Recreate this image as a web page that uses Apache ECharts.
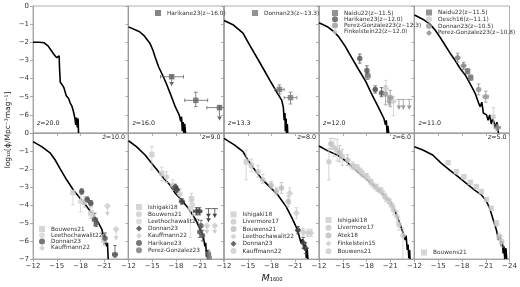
<!DOCTYPE html>
<html>
<head>
<meta charset="utf-8">
<script src="https://cdn.jsdelivr.net/npm/echarts@6/dist/echarts.min.js"></script>
<style>
  html, body {margin: 0; padding: 0; background: #fff}
  #chart {width: 520px; height: 287px}
</style>
</head>
<body>
<div id="chart"></div>
<script>
// model curves [M1600, log10 phi]
const z20Model = [[-12,-2.0],[-12.8,-2.0],[-13.4,-2.03],[-13.9,-2.2],[-14.3,-2.45],[-14.7,-2.7],[-15.0,-2.85],[-15.2,-2.9],[-15.3,-2.75],[-15.35,-3.4],[-15.45,-4.2],[-15.7,-4.35],[-15.9,-4.5],[-16.1,-4.6],[-16.2,-4.95],[-16.5,-5.1],[-16.7,-5.35],[-16.9,-5.5],[-17.1,-5.8],[-17.3,-6.2],[-17.4,-6.55],[-17.5,-6.15],[-17.6,-6.7],[-17.7,-6.2],[-17.75,-7]]
const z16Model = [[-12,-1.15],[-13.4,-1.42],[-14.0,-1.65],[-14.7,-2.05],[-15.1,-2.45],[-15.35,-2.8],[-15.8,-3.35],[-16.4,-3.9],[-16.8,-4.3],[-17.25,-4.8],[-17.6,-5.2],[-17.9,-5.55],[-18.4,-6.0],[-18.6,-6.35],[-18.7,-6.1],[-18.8,-6.9],[-18.9,-6.4],[-19.0,-7],[-19.1,-6.5],[-19.2,-7]]
const z13Model = [[-12,-0.8],[-13.2,-1.05],[-14.4,-1.5],[-15.3,-2.2],[-16.5,-3.1],[-17.8,-4.1],[-18.6,-4.7],[-19.3,-5.2],[-19.5,-5.6],[-19.6,-6.3],[-19.7,-5.9],[-19.75,-6.9],[-19.85,-6.2],[-19.9,-7],[-20.0,-6.5],[-20.05,-7]]
const z12Model = [[-12,-0.92],[-13.05,-1.14],[-13.9,-1.42],[-14.5,-1.7],[-15.35,-2.25],[-16.2,-2.9],[-17.0,-3.5],[-17.9,-4.15],[-18.7,-4.9],[-19.35,-5.45],[-19.8,-5.85],[-20.2,-6.2],[-20.4,-6.55],[-20.5,-6.3],[-20.6,-7],[-20.7,-6.6],[-20.8,-7]]
const z11Model = [[-12,-0.5],[-13.1,-0.74],[-13.95,-1.0],[-14.6,-1.32],[-15.2,-1.7],[-15.85,-2.15],[-16.5,-2.6],[-17.1,-2.98],[-17.75,-3.43],[-18.4,-3.8],[-19.0,-4.26],[-19.65,-4.8],[-20.1,-5.35],[-20.3,-5.55],[-20.5,-5.3],[-20.7,-5.9],[-21.1,-6.0],[-21.3,-6.3],[-21.5,-6.0],[-21.7,-6.5],[-21.9,-6.2],[-22.2,-6.7],[-22.4,-6.4],[-22.6,-7]]
const z10Model = [[-12,-0.48],[-13.1,-0.76],[-14.15,-1.1],[-14.8,-1.5],[-15.4,-1.96],[-16.25,-2.6],[-17.1,-3.17],[-17.95,-3.63],[-18.8,-4.09],[-19.6,-4.56],[-20.25,-4.98],[-20.7,-5.35],[-20.9,-5.76],[-21.0,-5.6],[-21.1,-5.95],[-21.3,-6.3],[-21.4,-6.1],[-21.5,-7]]
const z9Model = [[-12,-0.43],[-13.0,-0.76],[-14.1,-1.22],[-14.95,-1.69],[-15.8,-2.15],[-16.6,-2.6],[-17.25,-2.89],[-17.9,-3.35],[-18.7,-3.72],[-19.55,-4.18],[-20.4,-4.74],[-21.0,-5.3],[-21.45,-5.76],[-21.65,-6.3],[-21.75,-6.1],[-21.85,-6.87],[-21.95,-6.5],[-22.0,-7]]
const z8Model = [[-12,-0.3],[-13.35,-0.67],[-14.4,-1.04],[-15.0,-1.5],[-15.9,-2.06],[-16.7,-2.52],[-17.75,-2.98],[-18.8,-3.44],[-19.85,-4.09],[-20.5,-4.65],[-21.1,-5.2],[-21.45,-5.67],[-21.75,-6.13],[-21.9,-5.9],[-22.2,-6.5],[-22.3,-6.2],[-22.4,-6.96],[-22.5,-6.4],[-22.6,-7]]
const z6Model = [[-12,-0.72],[-13.05,-0.98],[-14.3,-1.22],[-15.35,-1.54],[-16.4,-1.96],[-17.65,-2.43],[-18.9,-2.89],[-19.95,-3.35],[-21.0,-3.81],[-21.65,-4.37],[-22.05,-4.83],[-22.5,-5.39],[-22.9,-5.94],[-23.0,-5.7],[-23.15,-6.5],[-23.25,-6.2],[-23.35,-6.96],[-23.45,-6.5],[-23.5,-7]]
const z5Model = [[-12,-0.76],[-13.05,-0.94],[-14.3,-1.22],[-15.4,-1.69],[-16.45,-2.06],[-17.5,-2.43],[-18.55,-2.8],[-19.6,-3.17],[-20.45,-3.44],[-21.0,-3.72],[-21.5,-4.18],[-21.95,-4.83],[-22.35,-5.39],[-22.6,-5.94],[-22.8,-5.7],[-23.0,-6.3],[-23.1,-6.0],[-23.2,-6.69],[-23.3,-6.3],[-23.4,-7],[-23.55,-6.4],[-23.65,-7]]

// observations [M, logphi, errDown, errUp, errXfaint, errXbright]
const z16Harikane = [[-17.45,-3.9,0.1,0.1,1.4,1.5],[-20.5,-5.2,0.35,0.45,1.4,1.5],[-23.5,-5.6,0.1,0.1,1.6,1.0]]
// upper limits [M, logphi, arrow length, errX]
const z16HarikaneLim = [[-17.45,-4.05,0.35,0],[-23.5,-5.7,0.6,0]]
const z13Donnan = [[-19.0,-4.6,0.25,0.25,0.6,0.6],[-20.4,-5.05,0.35,0.3,0.8,0.8]]
const z12Naidu = [[-18.15,-3.85,0.2,0.2,0.3,0.3]]
const z12Harikane = [[-17.15,-2.9,0.25,0.25],[-18.05,-3.55,0.2,0.25],[-19.1,-4.6,0.2,0.2,0.2,0.2],[-19.9,-4.8,0.2,0.3]]
const z12Perez = [[-20.4,-4.85,0.6,0.45],[-21.0,-5.05,0.5,0.4,0.3,0.3],[-20.9,-5.25,0.2,0.2]]
const z12PerezLim = [[-22.1,-5.15,0.55,0.3],[-22.65,-5.15,0.55,0.3],[-23.4,-5.15,0.55,0.35]]
const z12Finkelstein = [[-20.45,-4.55,0.45,0.45],[-21.4,-5.25,0.8,0.25]]
const z11Naidu = [[-18.7,-3.6,0.15,0.15,0.2,0.2],[-19.1,-3.95,0.15,0.15,0.2,0.2]]
const z11Oesch = [[-21.95,-6.1,0.45,0.5]]
const z11Donnan = [[-20.1,-4.6,0.3,0.3,0.2,0.2],[-21.0,-5.0,0.3,0.3,0.35,0.35]]
const z11Perez = [[-17.45,-2.85,0.25,0.25,0.2,0.2],[-18.2,-3.3,0.2,0.2,0.2,0.2],[-22.45,-6.7,0.15,0.15,0.4,0.4]]

const z10Bouwens = [[-17.05,-3.3,0.7,0.1],[-18.5,-3.85,0.3,0.3],[-19.3,-4.45,0.3,0.3],[-20.95,-5.95,0.3,0.3]]
const z10Leetho = [[-18.0,-3.8,0.6,0.3],[-19.5,-4.6,0.3,0.3]]
const z10Donnan = [[-18.15,-3.25,0.15,0.15,0.2,0.2],[-18.85,-3.7,0.15,0.15,0.2,0.2],[-19.3,-3.9,0.15,0.15,0.2,0.2],[-19.8,-4.8,0.35,0.35,0.3,0.3],[-20.0,-5.0,0.2,0.2],[-21.1,-5.85,0.3,0.3],[-22.35,-6.75,0.15,0.5,0.3,0.3]]
const z10Kauffmann = [[-21.4,-4.05],[-22.5,-5.35]]
const z10KauffmannLim = [[-21.4,-4.05,0.55,0],[-22.5,-5.35,0.6,0]]

const z9Ishigaki = [[-14.95,-1.2,0.85,0.45],[-16.2,-2.25,0.4,0.35],[-19.95,-3.65,0.3,0.3]]
const z9Bouwens = [[-16.8,-2.45,0.3,0.3],[-17.6,-2.9,0.3,0.3],[-18.5,-3.4,0.3,0.3]]
const z9Leetho = [[-19.8,-4.2,1.6,0.4],[-20.1,-4.0,0.6,0.3]]
const z9Donnan = [[-17.9,-3.0,0.15,0.15,0.25,0.25],[-18.1,-3.15,0.15,0.15,0.25,0.25],[-18.75,-3.8,0.15,0.15,0.25,0.25],[-20.6,-4.35,0.2,0.2,0.4,0.4],[-20.95,-4.35,0.2,0.2,0.3,0.3]]
const z9DonnanLim = [[-22.1,-4.2,0.5,0.4],[-22.9,-4.2,0.5,0.4],[-22.1,-4.65,0.3,0]]
const z9Kauffmann = [[-21.9,-5.15],[-22.9,-5.15]]
const z9KauffmannLim = [[-21.9,-5.15,0.45,0],[-22.9,-5.15,0.45,0]]
const z9Harikane = [[-21.0,-5.5,0.3,0.3],[-21.35,-5.7,0.3,0.3],[-21.15,-5.15,0.3,0.3]]
const z9Perez = [[-22.1,-6.7,0.2,0.2],[-22.2,-6.9,0.2,0.2]]

const z8Ishigaki = [[-14.8,-1.6,1.0,0.65],[-15.45,-1.8,0.35,0.35]]
const z8Livermore = [[-16.3,-2.15,0.3,0.35],[-16.9,-2.6,0.2,0.3]]
const z8Bouwens = [[-17.95,-2.9,0.2,0.2],[-18.6,-3.25,0.2,0.2],[-19.25,-3.05,0.3,0.3],[-20.1,-3.8,0.3,0.3]]
const z8Leetho = [[-20.3,-3.35,0.6,0.3],[-21.15,-4.45,0.3,0.3],[-22.6,-5.55,0.2,0.2,0.3,0.3],[-23.0,-5.55,0.2,0.2]]
const z8Donnan = [[-21.35,-5.4,0.2,0.2,0.2,0.2],[-22.0,-6.1,0.3,0.3],[-22.3,-6.4,0.3,0.3]]
const z8Kauffmann = [[-22.0,-5.5,0.2,0.2]]

const z6Ishigaki = [[-16.2,-1.8,0.2,0.2],[-16.85,-1.95,0.2,0.2],[-17.45,-2.25,0.2,0.2]]
const z6Livermore = [[-13.25,-1.6,1.0,0.75],[-13.9,-0.8,0.5,0.5],[-14.3,-0.95,0.6,0.6],[-14.95,-1.3,0.5,0.4]]
const z6Atek = [[-13.5,-0.6,0.3,0.3],[-14.6,-1.1,0.5,0.4],[-15.6,-1.5,0.3,0.3]]
const z6Finkelstein = [[-18.1,-2.45,0.2,0.2],[-18.7,-2.8,0.2,0.2],[-19.35,-3.05,0.2,0.2],[-19.95,-3.25,0.2,0.2],[-20.4,-3.6,0.2,0.2],[-21.0,-3.9,0.2,0.2],[-21.45,-4.3,0.25,0.25],[-21.85,-4.65,0.3,0.3]]
const z6Bouwens = [[-16.5,-1.9,0.15,0.15],[-17.2,-2.1,0.15,0.15],[-17.9,-2.4,0.15,0.15],[-18.5,-2.7,0.15,0.15],[-19.1,-3.0,0.15,0.15],[-19.7,-3.2,0.15,0.15],[-20.3,-3.5,0.15,0.15],[-20.8,-3.75,0.15,0.15],[-21.3,-4.1,0.2,0.2],[-22.1,-5.1,0.3,0.3],[-22.6,-5.7,1.3,0.4]]

const z5Bouwens = [[-16.25,-1.65,0.1,0.1],[-17.3,-2.15,0.1,0.1],[-18.25,-2.43,0.1,0.1],[-19.05,-2.74,0.1,0.1],[-19.8,-2.98,0.1,0.1],[-20.45,-3.26,0.1,0.1],[-21.1,-3.69,0.1,0.1],[-21.7,-4.18,0.1,0.1],[-22.35,-5.02,0.15,0.15],[-22.7,-5.76,0.2,0.2],[-23.0,-6.04,0.3,0.3]]

const xTicks = [-24, -21, -18, -15, -12]
const yTicks = [-7, -6, -5, -4, -3, -2, -1, 0]

// panel layout
const colLeft = [33, 128.5, 224, 319, 414.5]
const panelW = 95
const rowTop = [6, 133]
const rowH = [127, 126]

const panels = [
  {z: '20.0', model: z20Model, groups: []},
  {z: '16.0', model: z16Model, legend: [155, 10, 2], groups: [
    {name: 'Harikane23(z~16.0)', data: z16Harikane, lims: z16HarikaneLim, color: '#666', symbol: 'rect'}]},
  {z: '13.3', model: z13Model, legend: [252, 10, 2], groups: [
    {name: 'Donnan23(z~13.3)', data: z13Donnan, color: '#777', symbol: 'rect'}]},
  {z: '12.0', model: z12Model, legend: [332, 10, 0.3], groups: [
    {name: 'Naidu22(z~11.5)', data: z12Naidu, color: '#777', symbol: 'rect'},
    {name: 'Harikane23(z~12.0)', data: z12Harikane, color: '#555', symbol: 'circle'},
    {name: 'Perez-Gonzalez23(z~12.3)', data: z12Perez, lims: z12PerezLim, color: '#999', symbol: 'circle'},
    {name: 'Finkelstein22(z~12.0)', data: z12Finkelstein, color: '#ccc', symbol: 'diamond'}]},
  {z: '11.0', model: z11Model, legend: [426, 9.5, 0.8], groups: [
    {name: 'Naidu22(z~11.5)', data: z11Naidu, color: '#777', symbol: 'rect'},
    {name: 'Oesch16(z~11.1)', data: z11Oesch, color: '#ccc', symbol: 'circle'},
    {name: 'Donnan23(z~10.5)', data: z11Donnan, color: '#999', symbol: 'circle'},
    {name: 'Perez-Gonzalez23(z~10.8)', data: z11Perez, color: '#888', symbol: 'diamond'}]},
  {z: '10.0', model: z10Model, legend: [39, 226, 0.3], groups: [
    {name: 'Bouwens21', data: z10Bouwens, color: '#ccc', symbol: 'rect'},
    {name: 'Leethochawalit22', data: z10Leetho, color: '#d4d4d4', symbol: 'circle'},
    {name: 'Donnan23', data: z10Donnan, color: '#555', symbol: 'circle'},
    {name: 'Kauffmann22', data: z10Kauffmann, lims: z10KauffmannLim, color: '#ccc', symbol: 'diamond'}]},
  {z: '9.0', model: z9Model, legend: [136, 204, 1.2], groups: [
    {name: 'Ishigaki18', data: z9Ishigaki, color: '#ccc', symbol: 'rect'},
    {name: 'Bouwens21', data: z9Bouwens, color: '#ccc', symbol: 'circle'},
    {name: 'Leethochawalit22', data: z9Leetho, color: '#d4d4d4', symbol: 'circle'},
    {name: 'Donnan23', data: z9Donnan, lims: z9DonnanLim, color: '#444', symbol: 'diamond'},
    {name: 'Kauffmann22', data: z9Kauffmann, lims: z9KauffmannLim, color: '#ccc', symbol: 'diamond'},
    {name: 'Harikane23', data: z9Harikane, color: '#555', symbol: 'circle'},
    {name: 'Perez-Gonzalez23', data: z9Perez, color: '#777', symbol: 'circle'}]},
  {z: '8.0', model: z8Model, legend: [230.5, 211.5, 1.3], groups: [
    {name: 'Ishigaki18', data: z8Ishigaki, color: '#ccc', symbol: 'rect'},
    {name: 'Livermore17', data: z8Livermore, color: '#c8c8c8', symbol: 'circle'},
    {name: 'Bouwens21', data: z8Bouwens, color: '#bbb', symbol: 'circle'},
    {name: 'Leethochawalit22', data: z8Leetho, color: '#ccc', symbol: 'diamond'},
    {name: 'Donnan23', data: z8Donnan, color: '#444', symbol: 'diamond'},
    {name: 'Kauffmann22', data: z8Kauffmann, color: '#ccc', symbol: 'circle'}]},
  {z: '6.0', model: z6Model, legend: [325.5, 217, 1.8], groups: [
    {name: 'Ishigaki18', data: z6Ishigaki, color: '#ccc', symbol: 'rect'},
    {name: 'Livermore17', data: z6Livermore, color: '#c8c8c8', symbol: 'circle'},
    {name: 'Atek18', data: z6Atek, color: '#bbb', symbol: 'circle'},
    {name: 'Finkelstein15', data: z6Finkelstein, color: '#ccc', symbol: 'diamond'},
    {name: 'Bouwens21', data: z6Bouwens, color: '#ccc', symbol: 'circle'}]},
  {z: '5.0', model: z5Model, legend: [421, 249.5, 2], groups: [
    {name: 'Bouwens21', data: z5Bouwens, color: '#ccc', symbol: 'rect'}]}
]

const minus = v => String(v).replace('-', '\u2212')
const font = 'DejaVu Sans'

function errItem(color) {
  return function (params, api) {
    const x = api.value(0), y = api.value(1)
    const dyl = api.value(2), dyh = api.value(3), dxl = api.value(4), dxh = api.value(5)
    const st = {stroke: color, lineWidth: 0.8}
    const ch = []
    const seg = (a, b) => ch.push({type: 'line', shape: {x1: a[0], y1: a[1], x2: b[0], y2: b[1]}, style: st})
    if (dyl || dyh) {
      const a = api.coord([x, y + dyh]), b = api.coord([x, y - dyl])
      seg(a, b)
      seg([a[0] - 1.8, a[1]], [a[0] + 1.8, a[1]])
      seg([b[0] - 1.8, b[1]], [b[0] + 1.8, b[1]])
    }
    if (dxl || dxh) {
      const a = api.coord([x + dxl, y]), b = api.coord([x - dxh, y])
      seg(a, b)
      seg([a[0], a[1] - 1.8], [a[0], a[1] + 1.8])
      seg([b[0], b[1] - 1.8], [b[0], b[1] + 1.8])
    }
    return {type: 'group', children: ch}
  }
}

function limItem(color) {
  return function (params, api) {
    const x = api.value(0), y = api.value(1), len = api.value(2), dx = api.value(3)
    const st = {stroke: color, lineWidth: 0.8}
    const p = api.coord([x, y]), q = api.coord([x, y - len])
    const ch = [{type: 'line', shape: {x1: p[0], y1: p[1], x2: q[0], y2: q[1]}, style: st},
      {type: 'polygon', shape: {points: [[q[0] - 2.4, q[1] - 3.8], [q[0] + 2.4, q[1] - 3.8], [q[0], q[1]]]}, style: {fill: color}}]
    if (dx) {
      const a = api.coord([x + dx, y]), b = api.coord([x - dx, y])
      ch.push({type: 'line', shape: {x1: a[0], y1: a[1], x2: b[0], y2: b[1]}, style: st})
    }
    return {type: 'group', children: ch}
  }
}

const grid = [], xAxis = [], yAxis = [], series = [], legend = [], graphic = []

panels.forEach((pn, i) => {
  const row = i < 5 ? 0 : 1, col = i % 5
  grid.push({left: colLeft[col], top: rowTop[row], width: panelW, height: rowH[row],
    show: true, borderColor: '#999', borderWidth: 0.8, outerBoundsMode: 'none', containLabel: false})
  xAxis.push({gridIndex: i, type: 'value', min: xTicks[0], max: xTicks[xTicks.length - 1], interval: 3, inverse: true,
    axisLine: {show: true, onZero: false, lineStyle: {color: '#999', width: 0.8}},
    axisTick: {show: true, length: 3, lineStyle: {color: '#999', width: 0.8}},
    splitLine: {show: false},
    axisLabel: {show: row === 1, fontSize: 7, color: '#333', fontFamily: font, margin: 4,
      formatter: v => (col < 4 && v === xTicks[0]) ? '' : minus(v)}})
  yAxis.push({gridIndex: i, type: 'value', min: yTicks[0], max: yTicks[yTicks.length - 1], interval: 1,
    axisLine: {show: true, onZero: false, lineStyle: {color: '#999', width: 0.8}},
    axisTick: {show: true, length: 3, lineStyle: {color: '#999', width: 0.8}},
    splitLine: {show: false},
    axisLabel: {show: col === 0, fontSize: 7, color: '#333', fontFamily: font, margin: 4,
      formatter: v => (row === 0 && v === yTicks[0]) ? '' : minus(v)}})

  pn.groups.forEach(g => {
    const nm = g.name + '@' + i
    series.push({type: 'custom', xAxisIndex: i, yAxisIndex: i, clip: true, silent: true, z: 3,
      renderItem: errItem(g.color), encode: {x: 0, y: 1},
      data: g.data.map(d => [d[0], d[1], d[2] || 0, d[3] || 0, d[4] || 0, d[5] || 0])})
    if (g.lims) {
      series.push({type: 'custom', xAxisIndex: i, yAxisIndex: i, clip: true, silent: true, z: 3,
        renderItem: limItem(g.color), encode: {x: 0, y: 1}, data: g.lims})
    }
    series.push({type: 'scatter', name: nm, xAxisIndex: i, yAxisIndex: i, symbol: g.symbol,
      symbolSize: g.symbol === 'diamond' ? 7 : 5.5, itemStyle: {color: g.color}, z: 4, clip: true,
      data: g.data.map(d => [d[0], d[1]])})
  })
  series.push({type: 'line', xAxisIndex: i, yAxisIndex: i, data: pn.model, showSymbol: false, symbol: 'none',
    lineStyle: {color: '#000', width: 1.6}, z: 2, clip: true, silent: true})

  if (pn.legend) {
    legend.push({orient: 'vertical', left: pn.legend[0], top: pn.legend[1], itemGap: pn.legend[2], padding: 0,
      itemWidth: 6, itemHeight: 6, selectedMode: false,
      textStyle: {fontSize: 5.8, color: '#333', fontFamily: font, lineHeight: 6, padding: [0, 0, 0, 1]},
      formatter: n => n.split('@')[0],
      data: pn.groups.map(g => ({name: g.name + '@' + i, icon: g.symbol}))})
  }

  const zStyle = {text: '{i|z}=' + pn.z, fontSize: 6.3, fill: '#222', fontFamily: font,
    rich: {i: {fontStyle: 'italic', fontSize: 6.3, fontFamily: font}}}
  if (row === 0) {
    graphic.push({type: 'text', left: colLeft[col] + 4, top: rowTop[row] + rowH[row] - 13, style: zStyle})
  } else {
    graphic.push({type: 'text', right: 520 - (colLeft[col] + panelW) + 3, top: rowTop[row] + 1.5, style: zStyle})
  }
})

graphic.push({type: 'text', x: 8, y: 130, rotation: Math.PI / 2,
  style: {text: 'log\u2081\u2080[\u03d5/Mpc\u207b\u00b3mag\u207b\u00b9]', fontSize: 7.5, fill: '#222', fontFamily: font,
    align: 'center', verticalAlign: 'middle'}})
graphic.push({type: 'text', x: 272, y: 279,
  style: {text: '{i|M}\u2081\u2086\u2080\u2080', fontSize: 8, fill: '#222', fontFamily: font,
    align: 'center', verticalAlign: 'middle',
    rich: {i: {fontStyle: 'italic', fontSize: 9.5, fontFamily: font}}}})

const chart = echarts.init(document.getElementById('chart'), null, {renderer: 'canvas'})
chart.setOption({
  animation: false,
  backgroundColor: '#fff',
  grid, xAxis, yAxis, series, legend, graphic
})
</script>
</body>
</html>
